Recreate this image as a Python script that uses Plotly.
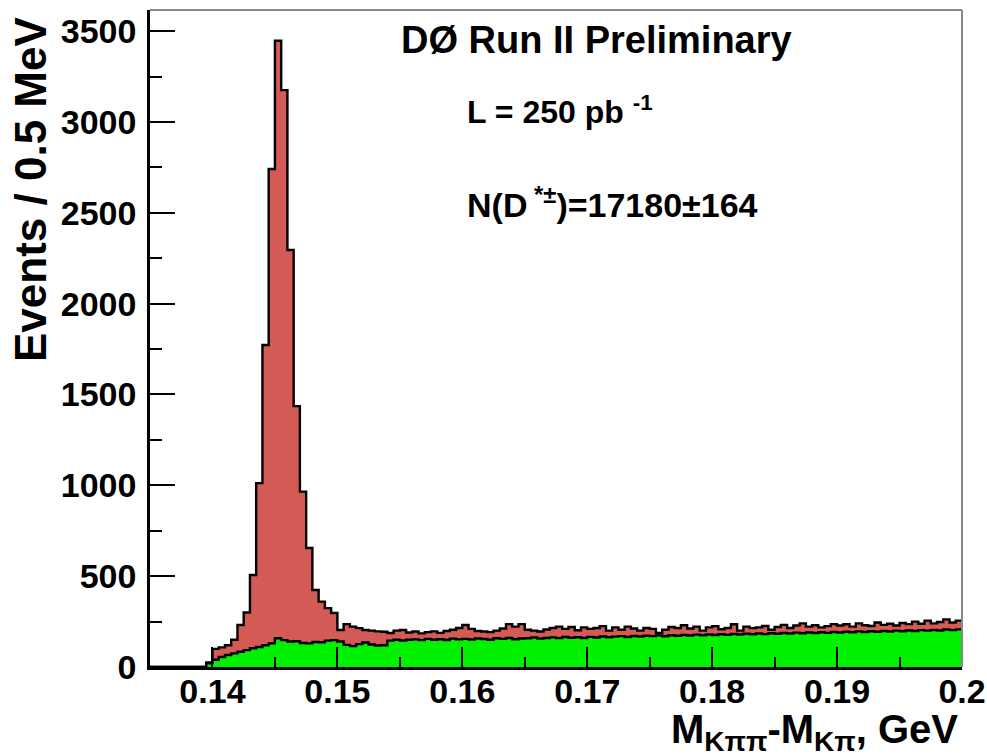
import plotly.graph_objects as go

# ---- data ----
x_lo = 0.135
bin_w = 0.0005
n_bins = 130

total = [0, 0, 0, 0, 0, 0, 0, 0, 0,
         25, 100, 108, 120, 150, 231, 300, 506, 1012, 1772, 2741,
         3447, 3175, 2295, 1436, 965, 655, 424, 360, 324, 297,
         204, 236, 222, 214, 204, 200, 196, 194, 187, 200,
         204, 190, 195, 185, 192, 196, 188, 198, 205, 215,
         231, 210, 198, 195, 192, 200, 212, 236, 222, 236,
         205, 200, 195, 206, 215, 222, 210, 220, 202, 218,
         210, 215, 225, 200, 218, 205, 222, 212, 200, 215,
         210, 188, 205, 220, 215, 230, 212, 222, 200, 218,
         225, 208, 215, 235, 200, 222, 214, 218, 226, 205,
         220, 232, 215, 228, 240, 222, 230, 218, 225, 236,
         228, 235, 222, 240, 230, 226, 245, 232, 238, 228,
         242, 236, 250, 238, 255, 240, 248, 262, 245, 255]

background = [0, 0, 0, 0, 0, 0, 0, 0, 0,
              20, 40, 55, 66, 75, 84, 93, 103, 110, 120, 130,
              158, 148, 140, 142, 132, 130, 138, 136, 145, 148,
              140, 122, 115, 126, 135, 124, 118, 120, 145, 150,
              146, 150, 152, 148, 155, 150, 153, 149, 156, 152,
              155, 151, 157, 154, 150, 158, 155, 160, 153, 157,
              158, 162, 156, 160, 163, 159, 165, 161, 164, 160,
              166, 162, 168, 164, 167, 170, 165, 171, 168, 172,
              170, 174, 169, 175, 172, 176, 173, 178, 175, 179,
              176, 180, 177, 182, 179, 183, 180, 184, 181, 186,
              183, 187, 184, 189, 186, 190, 187, 191, 188, 193,
              190, 194, 191, 196, 193, 197, 194, 198, 195, 200,
              197, 201, 198, 203, 200, 204, 201, 206, 203, 207]

x_ticks = [0.14, 0.15, 0.16, 0.17, 0.18, 0.19, 0.2]
x_tick_text = ["0.14", "0.15", "0.16", "0.17", "0.18", "0.19", "0.2"]
y_ticks = [0, 500, 1000, 1500, 2000, 2500, 3000, 3500]
y_tick_text = ["0", "500", "1000", "1500", "2000", "2500", "3000", "3500"]

title_text = "DØ Run II Preliminary"
lumi_text = "L = 250 pb <sup>-1</sup>"
yield_text = "N(D<sup> *±</sup>)=17180±164"
x_title = "M<sub>Kππ</sub>-M<sub>Kπ</sub>, GeV"
y_title = "Events / 0.5 MeV"

# ---- build step histograms ----
edges = [x_lo + i * bin_w for i in range(n_bins + 1)]


def step(vals):
    return edges, list(vals) + [vals[-1]]


FONT = "Liberation Sans"
RED = "#d45a56"
GREEN = "#00f000"

fig = go.Figure()
sx, sy = step(total)
fig.add_trace(go.Scatter(x=sx, y=sy, mode="lines", line_shape="hv",
                         line=dict(color="black", width=2.4),
                         fill="tozeroy", fillcolor=RED, hoverinfo="skip"))
bx, by = step(background)
fig.add_trace(go.Scatter(x=bx, y=by, mode="lines", line_shape="hv",
                         line=dict(color="black", width=2.4),
                         fill="tozeroy", fillcolor=GREEN, hoverinfo="skip"))

fig.update_layout(
    width=987, height=756,
    margin=dict(l=150, r=25, t=10, b=89, autoexpand=False),
    paper_bgcolor="white", plot_bgcolor="white",
    showlegend=False,
    font=dict(family=FONT, color="black"),
)

fig.update_xaxes(
    range=[0.135, 0.2], showgrid=False, zeroline=False, automargin=False,
    showline=True, linecolor="black", linewidth=2.5,
    tickvals=x_ticks, ticktext=x_tick_text,
    ticks="inside", ticklen=20, tickwidth=2, tickcolor="black",
    minor=dict(dtick=0.005, tick0=0.135, ticks="inside", ticklen=10,
               tickwidth=2, tickcolor="black", showgrid=False),
    tickfont=dict(family=FONT, size=34, weight="bold", color="black"),
    ticklabelstandoff=-8,
)
fig.update_yaxes(
    range=[0, 3616], showgrid=False, zeroline=False, automargin=False,
    showline=True, linecolor="black", linewidth=2.5,
    tickvals=y_ticks, ticktext=y_tick_text,
    ticks="inside", ticklen=25, tickwidth=2, tickcolor="black",
    minor=dict(dtick=250, tick0=0, ticks="inside", ticklen=12,
               tickwidth=2, tickcolor="black", showgrid=False),
    tickfont=dict(family=FONT, size=34, weight="bold", color="black"),
    ticklabelstandoff=4,
)

# thin grey frame on top / right
fig.add_shape(type="line", xref="paper", yref="paper", x0=0, x1=1, y0=1, y1=1,
              line=dict(color="#888888", width=2))
fig.add_shape(type="line", xref="paper", yref="paper", x0=1, x1=1, y0=0, y1=1,
              line=dict(color="#888888", width=2))


def px_x(p):
    return (p - 150) / 812.0


def px_y(p):
    return (667 - p) / 657.0


fig.add_annotation(text=title_text, xref="paper", yref="paper",
                   x=px_x(596), y=px_y(40), xanchor="center", yanchor="middle",
                   showarrow=False, font=dict(family=FONT, size=38, weight="bold"))
fig.add_annotation(text=lumi_text, xref="paper", yref="paper",
                   x=px_x(465), y=px_y(110), xanchor="left", yanchor="middle",
                   showarrow=False, font=dict(family=FONT, size=32, weight="bold"))
fig.add_annotation(text=yield_text, xref="paper", yref="paper",
                   x=px_x(465), y=px_y(202), xanchor="left", yanchor="middle",
                   showarrow=False, font=dict(family=FONT, size=34, weight="bold"))
fig.add_annotation(text=x_title, xref="paper", yref="paper",
                   x=px_x(960), y=px_y(732), xanchor="right", yanchor="middle",
                   showarrow=False, font=dict(family=FONT, size=40, weight="bold"))
fig.add_annotation(text=y_title, xref="paper", yref="paper",
                   x=px_x(30), y=px_y(190), xanchor="center", yanchor="middle",
                   textangle=-90, showarrow=False,
                   font=dict(family=FONT, size=44, weight="bold"))

fig.write_html("out.html")
